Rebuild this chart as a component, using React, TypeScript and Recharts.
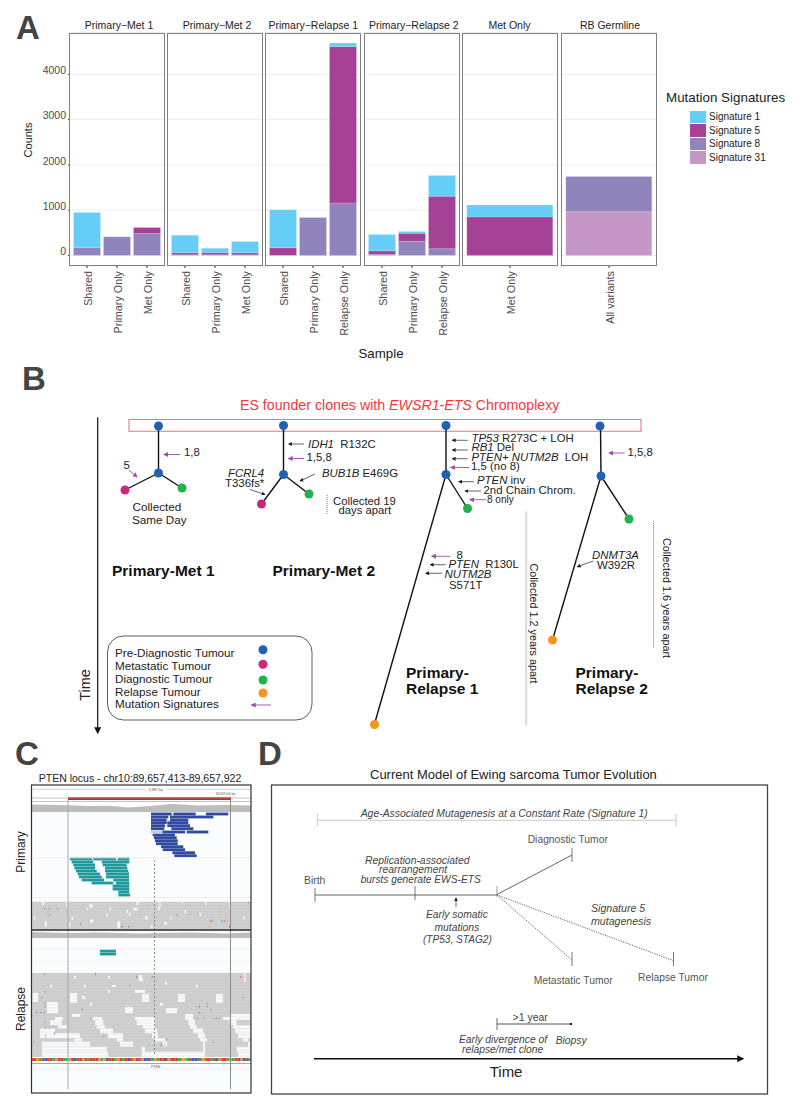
import React from 'react';
import {
  Area,
  Bar,
  BarChart,
  CartesianGrid,
  ComposedChart,
  ReferenceArea,
  ReferenceLine,
  Scatter,
  XAxis,
  YAxis
} from 'recharts';

// Panel A values, one entry per facet
const facetTitles = ['Primary−Met 1', 'Primary−Met 2', 'Primary−Relapse 1', 'Primary−Relapse 2', 'Met Only', 'RB Germline'];
const facetSamples = [
  ['Shared', 'Primary Only', 'Met Only'],
  ['Shared', 'Primary Only', 'Met Only'],
  ['Shared', 'Primary Only', 'Relapse Only'],
  ['Shared', 'Primary Only', 'Relapse Only'],
  ['Met Only'],
  ['All variants']
];
const signature1 = [[775, 0, 0], [387, 90, 248], [840, 0, 75], [360, 35, 460], [265], [0]];
const signature5 = [[0, 0, 130], [45, 50, 45], [170, 0, 3458], [80, 180, 1160], [850], [0]];
const signature8 = [[170, 410, 485], [15, 15, 15], [0, 835, 1157], [20, 310, 145], [0], [780]];
const signature31 = [[0, 0, 0], [0, 0, 0], [0, 0, 0], [0, 0, 0], [0], [965]];
const countTicks = [0, 1000, 2000, 3000, 4000];

const signatureNames = ['Signature 1', 'Signature 5', 'Signature 8', 'Signature 31'];
const signatureColors = ['#66CEF6', '#A64295', '#9184BC', '#C597C7'];
const facetLeft = [68.5, 166.5, 265, 363.5, 462, 560.5];
const facetTitleCenter = [119, 217, 313.3, 413.8, 509.5, 610];

// Panel B tree: [x1, y1, x2, y2]
type Seg = number[];
const treeEdges: Seg[] = [
  [158.5, 426, 158.5, 473], [158.5, 473, 125, 490], [158.5, 473, 182, 488],
  [283.5, 426, 283.5, 474.5], [283.5, 474.5, 261.5, 504], [283.5, 474.5, 309, 494],
  [446, 426, 446, 474.5], [446, 474.5, 467.5, 508.5], [446, 474.5, 374.5, 724],
  [600.5, 426, 601, 476], [601, 476, 629, 519], [601, 476, 552.5, 640]
];
const blackArrows: Seg[] = [
  [304, 444, 288.5, 444], [315, 474, 300, 481], [250, 489.5, 265, 494.5],
  [467.7, 440.3, 452.3, 440.3], [467.7, 450, 452.3, 450], [467.7, 458.7, 452.3, 458.7],
  [474, 481.7, 458.7, 481.7], [481, 491, 465, 491],
  [445.7, 564.7, 430.3, 564.7], [442, 573.3, 425.7, 573.3], [593.3, 561, 577.3, 566.7],
  [456, 907, 456, 898]
];
const purpleArrows: Seg[] = [
  [180, 454.5, 164, 454.5], [129, 470, 137, 477], [304, 458.5, 288.5, 458.5],
  [469, 467.5, 450.7, 467.5], [486, 499.7, 469.7, 499.7], [450.3, 556.3, 431.7, 556.3],
  [624.7, 453, 609, 453], [271, 705, 251.5, 705]
];
const dottedGuides: Seg[] = [[327, 495, 327, 514], [526, 511.7, 526, 725.7], [653.5, 521.3, 653.5, 648]];

const preDiagnosticNodes = [
  { x: 158.5, y: 426 }, { x: 158.5, y: 473 }, { x: 283.5, y: 425.5 }, { x: 283.5, y: 474.5 },
  { x: 446, y: 425.5 }, { x: 446, y: 474.5 }, { x: 600, y: 426 }, { x: 601, y: 476 }, { x: 263, y: 649.7 }
];
const metastaticNodes = [{ x: 125, y: 490 }, { x: 261.5, y: 504 }, { x: 263, y: 664.3 }];
const diagnosticNodes = [{ x: 182, y: 488 }, { x: 309, y: 494 }, { x: 467.5, y: 508.5 }, { x: 629, y: 519 }, { x: 263, y: 680 }];
const relapseNodes = [{ x: 374.5, y: 724.5 }, { x: 552.5, y: 640 }, { x: 263, y: 693 }];

// Panel C reads: [x1, x2, y]
const blueReads: Seg[] = [
  [151, 171.7, 814], [173.3, 195.7, 814], [206, 228.3, 814],
  [151, 168.3, 817], [170, 190, 817], [190, 213.3, 817],
  [151, 166.7, 820], [170, 188.3, 820],
  [151, 166.7, 822.7], [167.3, 188.3, 822.7],
  [151, 165, 825.7], [167.3, 190, 825.7],
  [151, 164.3, 828.7], [171.3, 193.3, 828.7],
  [162.3, 185, 832], [186.7, 208.3, 832],
  [152.7, 175, 835], [154, 176.7, 837.7], [155, 177.7, 840.7], [156, 177.7, 843.7],
  [161, 183.3, 846.7], [162.7, 185, 849.7], [172.3, 195, 852.7], [174.3, 196.7, 855.7]
];
const tealReads: Seg[] = [
  [70, 92.3, 859], [93.3, 116, 859], [117.7, 129.3, 859],
  [71.7, 93.3, 862], [101.7, 123.3, 862], [123.3, 129.3, 862],
  [73.3, 95, 865], [102.7, 126.7, 865],
  [74.3, 95, 868], [105, 127.3, 868],
  [76, 96.7, 871], [105, 128.3, 871],
  [77.7, 100, 874], [106, 129, 874],
  [79, 101.7, 877], [106, 129, 877],
  [81.7, 104, 880], [113.3, 129, 880],
  [91.7, 113, 883], [116, 129.3, 883],
  [112.7, 129.3, 886], [112.7, 129.3, 889],
  [118.3, 129.3, 892], [118.3, 130, 895],
  [100, 116, 951], [100, 116, 954]
];
const primaryGaps: Seg[] = [
  [42.3, 44.3, 901.7, 905], [66, 67.3, 901.7, 906.7], [89.3, 92.7, 904.3, 907.7], [133.3, 137.3, 907.7, 910.7],
  [136.5, 138.5, 901.7, 905], [159.3, 160.7, 901.7, 906.7], [181.7, 183, 901.7, 903.3], [205, 206.3, 901.7, 905],
  [229.5, 231, 901.7, 910], [145, 147.7, 916, 919.3], [90, 93.3, 919.3, 922.7], [117.3, 120, 921, 928.3],
  [45, 46.7, 921, 926.7], [164.3, 166.7, 921.7, 925], [69, 70.5, 923.3, 926.7], [151, 152.5, 925, 928.3],
  [106.5, 108, 913.3, 916.7], [129, 130.5, 912.7, 916], [199.5, 201, 912.7, 916], [86.5, 88, 907.7, 910],
  [109.5, 111, 907.7, 910], [184.5, 186, 910, 913.3], [158, 159.5, 906.7, 910], [126.5, 128, 910, 913.3],
  [71.5, 73, 916.7, 920], [34, 35.5, 916.7, 919.3], [170, 171.5, 916.7, 919.3], [243, 244.5, 916.7, 919.3]
];
const relapseGaps: Seg[] = [
  [244, 245.5, 973, 982], [74, 76, 976, 979], [139, 142, 975, 981], [141, 143, 978, 981], [108, 110, 976, 979],
  [112, 116, 985, 987], [135, 145, 990, 993], [142, 149, 994, 1002], [32.7, 38, 993, 1002], [47, 58, 1002, 1013],
  [55, 63, 1017, 1020], [70, 77, 993, 1003], [72, 80, 1014, 1017], [93, 102, 1017, 1020], [125, 133, 1007, 1013],
  [135, 155, 1017, 1020], [166, 177, 1008, 1013], [178, 185, 994, 1002], [185, 193, 1014, 1020], [216, 223, 994, 1003],
  [223, 230, 1017, 1020], [230, 250, 1014, 1020], [50, 52, 985, 988], [84, 86, 985, 988], [165, 167, 982, 985],
  [196, 198, 985, 988], [108, 110, 990, 993], [82, 85, 996, 999], [90, 92, 1003, 1006], [160, 163, 1003, 1006],
  [50, 61.7, 1020, 1025], [95, 103.3, 1020, 1025], [136.7, 155, 1020, 1025], [188.3, 195, 1020, 1025], [230, 236.7, 1020, 1025],
  [58, 66.7, 1025, 1028.5], [96.7, 105, 1025, 1028.5], [143, 155, 1025, 1028.5], [190, 196.7, 1025, 1028.5], [233, 250, 1025, 1028.5],
  [40, 55, 1028.5, 1033.3], [100, 113, 1028.5, 1033.3], [145, 157, 1028.5, 1033.3], [193, 203, 1028.5, 1033.3], [235, 250, 1028.5, 1033.3],
  [40, 80, 1033.3, 1038.3], [108, 123, 1033.3, 1038.3], [152, 158, 1033.3, 1038.3], [198, 205, 1033.3, 1038.3], [238, 250, 1033.3, 1038.3],
  [74, 82, 1038.3, 1041.7], [116.7, 123, 1038.3, 1041.7], [155, 165, 1038.3, 1041.7], [200, 207, 1038.3, 1041.7], [243, 248, 1038.3, 1041.7],
  [42, 90, 1041.7, 1046.7], [120, 133, 1041.7, 1046.7], [163, 167, 1041.7, 1046.7], [203, 205, 1041.7, 1046.7], [248, 250, 1041.7, 1046.7],
  [42, 106.7, 1046.7, 1051.7], [141.7, 145, 1046.7, 1051.7], [203, 205, 1046.7, 1051.7], [236.7, 250, 1046.7, 1051.7],
  [42, 108, 1051.7, 1057], [141.7, 205, 1051.7, 1057], [238, 250, 1051.7, 1057]
];
// mismatches: [x, y, base]
const mismatches: [number, number, string][] = [
  [148.3, 906, 'G'], [44, 909, 'C'], [49.3, 909, 'C'], [57.3, 909, 'C'], [47.3, 912, 'G'], [47.3, 915, 'G'], [49.3, 915, 'C'],
  [176.7, 915, 'C'], [190, 915, 'G'], [196.7, 915, 'G'], [220, 912, 'G'], [139, 915, 'G'], [210, 921, 'T'], [211.7, 921, 'C'],
  [221.7, 921, 'C'], [224, 921, 'T'], [226.7, 921, 'G'], [80, 924, 'C'], [121.7, 926.7, 'C'], [128.3, 926.7, 'C'],
  [208.3, 926.7, 'G'], [229, 926.7, 'C'], [248.3, 903, 'A'], [44, 934, 'C'],
  [44, 974, 'A'], [95, 974, 'C'], [136, 977, 'C'], [151.7, 977, 'C'], [240, 977, 'T'], [243.3, 977, 'G'], [129, 986, 'A'],
  [44.3, 991.7, 'A'], [41, 997.7, 'T'], [242.7, 997.7, 'T'], [44.3, 1003, 'A'], [44.3, 1006.7, 'A'], [206.7, 1003.7, 'A'],
  [195.7, 1006.7, 'G'], [199, 1006.7, 'C'], [206.7, 1006.7, 'T'], [210.7, 1009.7, 'T'], [81.7, 1009.7, 'C'], [36, 1012.3, 'C'],
  [40.7, 1012.3, 'C'], [44, 1012.3, 'C'], [198.3, 1012.7, 'T'], [201.7, 1012.7, 'G'], [196.7, 1018.3, 'T'], [203.3, 1018.3, 'A'],
  [212.3, 1018.3, 'G'], [215.7, 1018.3, 'T'], [219, 1018.3, 'A'], [90, 1018.3, 'A'], [44.3, 1022.3, 'A'], [45, 1027.3, 'T'],
  [49, 1027.3, 'G'], [54, 1033.3, 'C'], [103.3, 1036, 'T'], [45, 1036, 'A'], [148.3, 1045, 'A'], [160.7, 1045, 'C'],
  [164, 1045, 'A'], [166, 1039, 'T'], [212.7, 1042, 'A'], [33.3, 1042, 'A']
];
const referenceSequence = 'TTGATCTTAGTTAAGTCTTGTATTTGAGCTTAGTATCTGTTGCCTAGATTCGTTTAGGATCCTAGTTATCGTTAGATTGCTA';
const baseColors: Record<string, string> = { A: '#3fa75a', C: '#3f62b8', G: '#e8923a', T: '#d6403c' };

const primaryCoverage = [
  { x: 31, top: 804.5 }, { x: 60, top: 805 }, { x: 90, top: 806 }, { x: 110, top: 805.8 }, { x: 128, top: 807.5 },
  { x: 150, top: 806 }, { x: 172, top: 804 }, { x: 200, top: 805.5 }, { x: 225, top: 805 }, { x: 251, top: 805.5 }
];
const relapseCoverage = [
  { x: 31, top: 932 }, { x: 70, top: 933 }, { x: 100, top: 932.5 }, { x: 140, top: 933.5 }, { x: 160, top: 933 },
  { x: 190, top: 932.5 }, { x: 225, top: 933.5 }, { x: 251, top: 932.5 }
];

const pageW = 800;
const pageH = 1110;
const sansFont = '"Liberation Sans", Arial, sans-serif';

function SampleTick({ x, y, payload }: any) {
  return (
    <text
      transform={`translate(${x + 1},${y + 1}) rotate(-90)`}
      textAnchor="end"
      dominantBaseline="central"
      fontSize={10.8}
      fontFamily={sansFont}
      fill="#4d4d4d"
    >
      {payload.value}
    </text>
  );
}

function Facet({ index }: { index: number }) {
  const rows = facetSamples[index].map((sample, i) => ({
    sample,
    s1: signature1[index][i],
    s5: signature5[index][i],
    s8: signature8[index][i],
    s31: signature31[index][i]
  }));
  const showCounts = index === 0;
  const bars = [
    { key: 's31', color: signatureColors[3] },
    { key: 's8', color: signatureColors[2] },
    { key: 's5', color: signatureColors[1] },
    { key: 's1', color: signatureColors[0] }
  ];
  const sidePad = rows.length > 1 ? 3 : 0;
  return (
    <div style={{ position: 'absolute', left: facetLeft[index] - 45, top: 0 }}>
      <BarChart
        width={141}
        height={360}
        data={rows}
        barCategoryGap="5%"
        margin={{ top: 32.5, right: 0, bottom: 0, left: 0 }}
      >
        <CartesianGrid vertical={false} stroke="#ededed" strokeWidth={1} />
        <XAxis
          dataKey="sample"
          height={94}
          interval={0}
          padding={{ left: sidePad, right: sidePad }}
          axisLine={false}
          tickLine={{ stroke: '#333' }}
          tickSize={2}
          tick={<SampleTick />}
        />
        <YAxis
          width={45}
          type="number"
          domain={[-234.5, 4924.5]}
          ticks={countTicks}
          allowDataOverflow
          axisLine={false}
          tickLine={showCounts ? { stroke: '#333' } : false}
          tickSize={1}
          tickMargin={2}
          tick={showCounts ? { fontSize: 10.5, fill: '#4d4d4d', fontFamily: sansFont, dy: -4 } : () => <g />}
        />
        {bars.map(b => (
          <Bar
            key={b.key}
            dataKey={b.key}
            stackId="counts"
            fill={b.color}
            stroke="#ffffff"
            strokeOpacity={0.3}
            strokeWidth={0.5}
            isAnimationActive={false}
          />
        ))}
      </BarChart>
      <div
        style={{
          position: 'absolute',
          left: 45,
          top: 32.5,
          width: 96,
          height: 233.5,
          boxSizing: 'border-box',
          border: '1.2px solid #808080'
        }}
      />
    </div>
  );
}

function segLine(seg: Seg, key: string, stroke: string, width: number, extra: any = {}) {
  return (
    <ReferenceLine
      key={key}
      segment={[{ x: seg[0], y: seg[1] }, { x: seg[2], y: seg[3] }]}
      shape={(p: any) => (
        <line
          x1={p.x1}
          y1={p.y1}
          x2={p.x2}
          y2={p.y2}
          stroke={stroke}
          strokeWidth={width}
          strokeDasharray={extra.dash}
          markerEnd={extra.marker}
        />
      )}
    />
  );
}

function box(x1: number, x2: number, y1: number, y2: number, fill: string, key: string, opacity = 1) {
  return <ReferenceArea key={key} x1={x1} x2={x2} y1={y1} y2={y2} fill={fill} fillOpacity={opacity} stroke="none" />;
}

// everything in panels B, C and D shares one chart whose axes run in page units
function DiagramMarks() {
  const rowLines: number[] = [];
  for (let y = 904; y < 930; y += 3) rowLines.push(y);
  const relapseRows: number[] = [];
  for (let y = 975; y < 1058; y += 3) relapseRows.push(y);
  return (
    <ComposedChart width={pageW} height={pageH} margin={{ top: 0, right: 0, bottom: 0, left: 0 }}>
      <XAxis type="number" dataKey="x" domain={[0, pageW]} hide allowDataOverflow />
      <YAxis type="number" domain={[0, pageH]} reversed hide allowDataOverflow />

      {/* panel C background */}
      {box(31, 251, 812, 1092, '#fbfcfe', 'c-bg')}
      {box(31, 251, 901.7, 929, '#cbcbcb', 'c-prim')}
      {box(31, 251, 973, 1057, '#cbcbcb', 'c-rel')}
      {box(31, 251, 804, 812, '#ffffff', 'c-cov1')}
      {rowLines.map(y => segLine([31, y, 251, y], `pr${y}`, '#dcdcdc', 0.6))}
      {relapseRows.map(y => segLine([31, y, 251, y], `rr${y}`, '#dcdcdc', 0.6))}
      {primaryGaps.map((g, i) => box(g[0], g[1], g[2], g[3], '#fbfcfe', `pg${i}`))}
      {relapseGaps.map((g, i) => box(g[0], g[1], g[2], g[3], '#fbfcfe', `rg${i}`))}
      {mismatches.map((m, i) => box(m[0], m[0] + 1, m[1] - 1.2, m[1] + 1.2, baseColors[m[2]], `mm${i}`, 0.6))}
      {blueReads.map((r, i) => box(r[0], r[1], r[2] - 1.4, r[2] + 1.4, '#2f4a9e', `br${i}`))}
      {box(151, 162.3, 830.6, 833.4, '#c6cbe0', 'br-pale')}
      {tealReads.map((r, i) => box(r[0], r[1], r[2] - 1.4, r[2] + 1.4, '#1f9a9c', `tr${i}`))}
      {referenceSequence.split('').map((b, i) => box(31 + i * 2.68, 31 + (i + 1) * 2.68, 1058, 1061, baseColors[b], `seq${i}`))}
      <Area
        data={primaryCoverage}
        dataKey="top"
        baseValue={812}
        type="linear"
        stroke="none"
        fill="#bdbdbd"
        fillOpacity={1}
        dot={false}
        activeDot={false}
        isAnimationActive={false}
      />
      <Area
        data={relapseCoverage}
        dataKey="top"
        baseValue={938}
        type="linear"
        stroke="none"
        fill="#bdbdbd"
        fillOpacity={1}
        dot={false}
        activeDot={false}
        isAnimationActive={false}
      />
      {box(68, 231, 797.3, 800, '#d3202a', 'c-red')}
      {segLine([31, 789.3, 146, 789.3], 'c-r1', '#b5b5b5', 0.6)}
      {segLine([166, 789.3, 251, 789.3], 'c-r2', '#b5b5b5', 0.6)}
      {segLine([31, 798, 251, 798], 'c-r3', '#9a9a9a', 0.6)}
      {segLine([31, 801.5, 251, 801.5], 'c-r4', '#9a9a9a', 0.6)}
      {segLine([31, 858, 251, 858], 'c-h1', '#eaeaea', 0.7)}
      {segLine([31, 897.5, 251, 897.5], 'c-h2', '#e6e6e6', 0.7)}
      {segLine([31, 949, 251, 949], 'c-h3', '#ececec', 0.7)}
      {segLine([31, 962, 251, 962], 'c-h4', '#ececec', 0.7)}
      {segLine([31, 1063.5, 251, 1063.5], 'c-gene', '#7f8fc8', 0.8)}
      {segLine([31, 1069, 251, 1069], 'c-h5', '#e2e2e2', 0.7)}
      {segLine([68, 800, 68, 1089], 'c-v1', '#a8a8a8', 1)}
      {segLine([230.5, 800, 230.5, 1089], 'c-v2', '#8c8c8c', 1)}
      {segLine([154.5, 860, 154.5, 1056], 'c-v3', '#666666', 0.7, { dash: '2 2' })}
      {segLine([31, 930, 251, 930], 'c-div', '#222222', 1.3)}

      {/* panel B */}
      <ReferenceArea x1={129} x2={641} y1={419.5} y2={431.3} fill="#ffffff" fillOpacity={1} stroke="#ee7378" strokeWidth={1.1} />
      {treeEdges.map((s, i) => segLine(s, `edge${i}`, '#111111', 1.4))}
      {blackArrows.map((s, i) => segLine(s, `ba${i}`, '#222222', 0.7, { marker: 'url(#headBlack)' }))}
      {purpleArrows.map((s, i) => segLine(s, `pa${i}`, '#9a4fa8', 0.9, { marker: 'url(#headPurple)' }))}
      {dottedGuides.map((s, i) => segLine(s, `dg${i}`, '#777777', 1, { dash: '1 1' }))}
      {segLine([97.7, 417.3, 97.7, 733], 'time-b', '#111111', 1.2, { marker: 'url(#headBig)' })}
      <Scatter data={preDiagnosticNodes} dataKey="y" fill="#1f63b0" isAnimationActive={false} />
      <Scatter data={metastaticNodes} dataKey="y" fill="#c9287f" isAnimationActive={false} />
      <Scatter data={diagnosticNodes} dataKey="y" fill="#22b14c" isAnimationActive={false} />
      <Scatter data={relapseNodes} dataKey="y" fill="#f7941d" isAnimationActive={false} />

      {/* panel D */}
      {segLine([317.3, 820.3, 676, 820.3], 'd-top', '#bbbbbb', 0.8)}
      {segLine([317.3, 814, 317.3, 826.7], 'd-t1', '#bbbbbb', 0.8)}
      {segLine([676, 814, 676, 826.7], 'd-t2', '#bbbbbb', 0.8)}
      {segLine([315, 895, 497, 895], 'd-main', '#555555', 0.9)}
      {segLine([315, 888, 315, 901.7], 'd-t3', '#555555', 0.8)}
      {segLine([415, 886, 415, 900], 'd-t4', '#555555', 0.8)}
      {segLine([497, 886, 497, 897], 'd-t5', '#888888', 0.8)}
      {segLine([497, 894.5, 572, 855], 'd-diag', '#555555', 0.9)}
      {segLine([572, 848, 572, 862], 'd-t6', '#555555', 0.8)}
      {segLine([497, 895, 572, 960], 'd-met', '#555555', 0.9, { dash: '1.2 1.2' })}
      {segLine([572, 952, 572, 966], 'd-t7', '#555555', 0.8)}
      {segLine([497, 895, 673, 960.5], 'd-rel', '#555555', 0.9, { dash: '1.2 1.2' })}
      {segLine([673.5, 952, 673.5, 966], 'd-t8', '#555555', 0.8)}
      {segLine([497, 1024, 571, 1024], 'd-year', '#444444', 0.9)}
      {segLine([497, 1018, 497, 1030], 'd-t9', '#444444', 0.8)}
      {box(569.8, 572, 1023, 1025, '#222222', 'd-dot')}
      {segLine([314, 1058.7, 743, 1058.7], 'd-time', '#111111', 1.6, { marker: 'url(#headBig)' })}
    </ComposedChart>
  );
}

function T({ x, y, size = 11, fill = '#222', italic = false, bold = false, anchor = 'start', rotate, children }: any) {
  return (
    <text
      x={rotate === undefined ? x : 0}
      y={rotate === undefined ? y : 0}
      transform={rotate === undefined ? undefined : `translate(${x},${y}) rotate(${rotate})`}
      fontSize={size}
      fill={fill}
      fontStyle={italic ? 'italic' : 'normal'}
      fontWeight={bold ? 700 : 400}
      textAnchor={anchor}
      fontFamily={sansFont}
      style={{ whiteSpace: 'pre' }}
    >
      {children}
    </text>
  );
}

const I = ({ children }: any) => <tspan fontStyle="italic">{children}</tspan>;

function TextLayer() {
  return (
    <svg width={pageW} height={pageH} style={{ position: 'absolute', left: 0, top: 0, pointerEvents: 'none' }}>
      <defs>
        <marker id="headBlack" viewBox="0 0 6 6" refX="5" refY="3" markerWidth="4" markerHeight="4" markerUnits="userSpaceOnUse" orient="auto">
          <path d="M0,0 L6,3 L0,6 z" fill="#222" />
        </marker>
        <marker id="headPurple" viewBox="0 0 6 6" refX="5" refY="3" markerWidth="5" markerHeight="5" markerUnits="userSpaceOnUse" orient="auto">
          <path d="M0,0 L6,3 L0,6 z" fill="#9a4fa8" />
        </marker>
        <marker id="headBig" viewBox="0 0 6 6" refX="5" refY="3" markerWidth="7" markerHeight="7" markerUnits="userSpaceOnUse" orient="auto">
          <path d="M0,0 L6,3 L0,6 z" fill="#111" />
        </marker>
      </defs>

      <T x={16} y={39} size={33} bold fill="#444">A</T>
      <T x={22} y={390} size={33} bold fill="#444">B</T>
      <T x={15} y={765} size={33} bold fill="#444">C</T>
      <T x={258} y={765} size={33} bold fill="#444">D</T>

      {/* panel A labels */}
      {facetTitles.map((t, i) => (
        <T key={t} x={facetTitleCenter[i]} y={29} size={10.5} anchor="middle">{t}</T>
      ))}
      <T x={32} y={140} size={11} anchor="middle" rotate={-90}>Counts</T>
      <T x={381} y={358} size={13.3} anchor="middle">Sample</T>

      {/* panel B */}
      <T x={240} y={410} size={14.2} fill="#f03a3a">ES founder clones with <I>EWSR1-ETS</I> Chromoplexy</T>
      <T x={184} y={456} size={11.4}>1,8</T>
      <T x={123.5} y={469} size={11.4}>5</T>
      <T x={132.5} y={511} size={11.7}>Collected</T>
      <T x={132} y={524} size={11.7}>Same Day</T>
      <T x={112} y={576} size={15.5} bold fill="#111">Primary-Met 1</T>
      <T x={272.5} y={576} size={15.5} bold fill="#111">Primary-Met 2</T>
      <T x={406} y={678} size={15.5} bold fill="#111">Primary-</T>
      <T x={406} y={694} size={15.5} bold fill="#111">Relapse 1</T>
      <T x={575.5} y={678} size={15.5} bold fill="#111">Primary-</T>
      <T x={575.5} y={694} size={15.5} bold fill="#111">Relapse 2</T>
      <T x={308} y={448} size={11.4}><I>IDH1</I>  R132C</T>
      <T x={306.5} y={461} size={11.4}>1,5,8</T>
      <T x={322} y={476.5} size={11.4}><I>BUB1B</I> E469G</T>
      <T x={228} y={477} size={11.4} italic>FCRL4</T>
      <T x={225} y={487} size={11.4}>T336fs*</T>
      <T x={333} y={505} size={11.3}>Collected 19</T>
      <T x={338.5} y={513.5} size={11.3}>days apart</T>
      <T x={471.5} y={441.7} size={11.4}><I>TP53</I> R273C + LOH</T>
      <T x={471.5} y={451} size={11.4}><I>RB1</I> Del</T>
      <T x={471.5} y={461} size={11.4}><I>PTEN+ NUTM2B</I>  LOH</T>
      <T x={471} y={470} size={11.4}>1,5 (no 8)</T>
      <T x={477} y={484} size={11.4}><I>PTEN</I> inv</T>
      <T x={483.5} y={494} size={11.4}>2nd Chain Chrom.</T>
      <T x={487} y={503} size={10}>8 only</T>
      <T x={456.5} y={559} size={11.4}>8</T>
      <T x={448.5} y={568} size={11.4}><I>PTEN</I>  R130L</T>
      <T x={444.5} y={578} size={11.4} italic>NUTM2B</T>
      <T x={449} y={589} size={11.4}>S571T</T>
      <T x={530} y={623.5} size={10.8} anchor="middle" rotate={90}>Collected 1.2 years apart</T>
      <T x={627.5} y={456} size={11.4}>1,5,8</T>
      <T x={592} y={559} size={11.4} italic>DNMT3A</T>
      <T x={597} y={568.5} size={11.4}>W392R</T>
      <T x={663} y={598} size={10.8} anchor="middle" rotate={90}>Collected 1.6 years apart</T>
      <T x={90} y={685} size={14.5} anchor="middle" rotate={-90}>Time</T>
      <rect x={107.5} y={636} width={204.5} height={84} rx={16} fill="none" stroke="#333" strokeWidth={0.8} />
      <T x={115} y={657} size={11.7}>Pre-Diagnostic Tumour</T>
      <T x={115} y={670} size={11.7}>Metastatic Tumour</T>
      <T x={115} y={683} size={11.7}>Diagnostic Tumour</T>
      <T x={115} y={695.5} size={11.7}>Relapse Tumour</T>
      <T x={115} y={708} size={11.7}>Mutation Signatures</T>

      {/* panel C */}
      <T x={140} y={782} size={10.5} anchor="middle">PTEN locus - chr10:89,657,413-89,657,922</T>
      <T x={25} y={852} size={12} anchor="middle" rotate={-90}>Primary</T>
      <T x={25} y={1009} size={12} anchor="middle" rotate={-90}>Relapse</T>
      <T x={149} y={791} size={3.5} fill="#555">6,887 bp</T>
      <T x={216} y={795} size={3} fill="#555">89,658,000 bp</T>
      <T x={151} y={1068} size={3.5} fill="#555">PTEN</T>
      <rect x={31.5} y={785} width={219.5} height={308} fill="none" stroke="#333" strokeWidth={1.2} />

      {/* panel D */}
      <T x={370} y={779} size={13}>Current Model of Ewing sarcoma Tumor Evolution</T>
      <rect x={271.5} y={785} width={496} height={309} fill="none" stroke="#444" strokeWidth={1.3} />
      <T x={360.7} y={816.7} size={10.4} italic fill="#444">Age-Associated Mutagenesis at a Constant Rate (Signature 1)</T>
      <T x={304} y={883.7} size={10.4} fill="#555">Birth</T>
      <T x={365} y={863.7} size={10.4} italic fill="#444">Replication-associated</T>
      <T x={379} y={873} size={10.4} italic fill="#444">rearrangement</T>
      <T x={360.7} y={882.7} size={10.2} italic fill="#444">bursts generate EWS-ETS</T>
      <T x={426} y={917.7} size={10.3} italic fill="#444">Early somatic</T>
      <T x={434.5} y={930.7} size={10.3} italic fill="#444">mutations</T>
      <T x={423} y={943.3} size={10.1} italic fill="#444">(TP53, STAG2)</T>
      <T x={527.7} y={843} size={10.3} fill="#555">Diagnostic Tumor</T>
      <T x={533.7} y={983.7} size={10.3} fill="#555">Metastatic Tumor</T>
      <T x={638} y={981.3} size={10.3} fill="#555">Relapse Tumor</T>
      <T x={591} y={911.7} size={10.6} italic fill="#444">Signature 5</T>
      <T x={591} y={924.7} size={10.6} italic fill="#444">mutagenesis</T>
      <T x={512.5} y={1021} size={10.5} fill="#444">&gt;1 year</T>
      <T x={459} y={1042.7} size={10.3} italic fill="#444">Early divergence of</T>
      <T x={462} y={1052.7} size={10.3} italic fill="#444">relapse/met clone</T>
      <T x={555.7} y={1044} size={10.3} italic fill="#444">Biopsy</T>
      <T x={489.7} y={1077.3} size={15} fill="#222">Time</T>
    </svg>
  );
}

function SignatureLegend() {
  return (
    <div style={{ position: 'absolute', left: 666, top: 90, fontFamily: sansFont, color: '#222' }}>
      <div style={{ fontSize: 13.4, lineHeight: '16px', whiteSpace: 'nowrap' }}>Mutation Signatures</div>
      <div style={{ marginTop: 4 }}>
        {signatureNames.map((name, i) => (
          <div key={name} style={{ display: 'flex', alignItems: 'center', height: 13.6, marginLeft: 24 }}>
            <div style={{ width: 16, height: 12.4, background: signatureColors[i] }} />
            <div style={{ marginLeft: 3, fontSize: 10, whiteSpace: 'nowrap' }}>{name}</div>
          </div>
        ))}
      </div>
    </div>
  );
}

export default function App() {
  return (
    <div style={{ position: 'absolute', left: 0, top: 0, width: pageW, height: pageH, background: '#fff', overflow: 'hidden' }}>
      {facetTitles.map((t, i) => (
        <Facet key={t} index={i} />
      ))}
      <SignatureLegend />
      <div style={{ position: 'absolute', left: 0, top: 0, pointerEvents: 'none' }}>
        <DiagramMarks />
      </div>
      <TextLayer />
    </div>
  );
}
